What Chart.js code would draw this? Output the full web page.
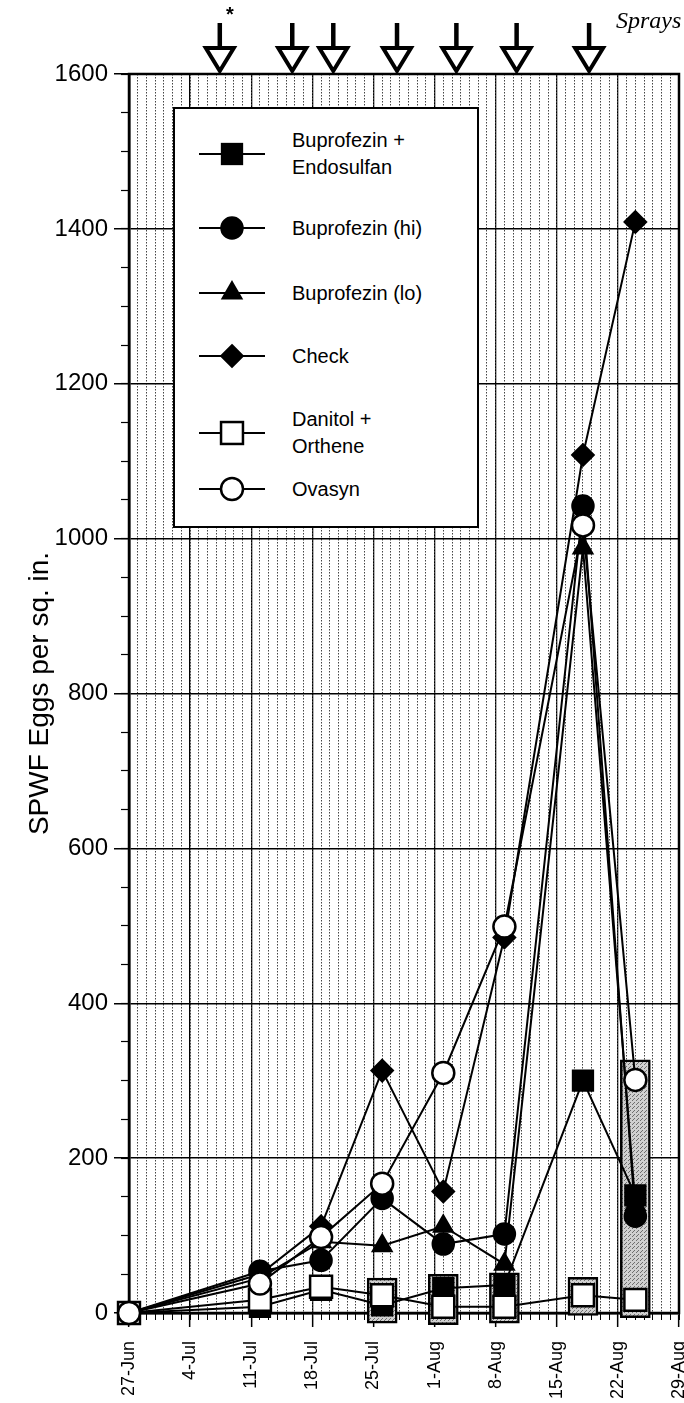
<!DOCTYPE html>
<html>
<head>
<meta charset="utf-8">
<script src="https://cdn.jsdelivr.net/npm/chart.js@4.4.1/dist/chart.umd.min.js"></script>
<style>
  html, body { margin: 0; padding: 0; background: #fff; }
  #wrap { position: relative; width: 684px; height: 1403px; overflow: hidden; }
  #c { position: absolute; left: 0; top: 0; }
  .txt { position: absolute; font-family: "Liberation Sans", Arial, Helvetica, sans-serif; color: #000; white-space: nowrap; }
  #sprays { font-family: "Liberation Serif", "Times New Roman", serif; font-style: italic; font-size: 24px; left: 616px; top: 8px; line-height: 1; }
  #star { font-size: 20px; font-weight: bold; left: 226px; top: 4px; line-height: 1; }
  #legend { position: absolute; left: 173px; top: 107px; width: 302px; height: 417px; background: #fff; border: 2.5px solid #000; }
  .lrow { position: absolute; left: 0; width: 300px; }
  .lrow svg { position: absolute; left: 24px; }
  .lrow .lab { position: absolute; left: 117px; font-family: "Liberation Sans", Arial, Helvetica, sans-serif; font-size: 20px; line-height: 27px; color: #000; white-space: nowrap; }
</style>
</head>
<body>
<div id="wrap">
  <canvas id="c" width="684" height="1403"></canvas>
  <div id="sprays" class="txt">Sprays</div>
  <div id="star" class="txt">*</div>
  <div id="legend"></div>
</div>
<script>
// ---- data (days counted from 27-Jun) ----
const tickLabels = ['27-Jun','4-Jul','11-Jul','18-Jul','25-Jul','1-Aug','8-Aug','15-Aug','22-Aug','29-Aug'];
const sampleDays = [0, 15, 22, 29, 36, 43, 52, 58];
const seriesNames = ['Buprofezin +\nEndosulfan', 'Buprofezin (hi)', 'Buprofezin (lo)', 'Check', 'Danitol +\nOrthene', 'Ovasyn'];
const bupEndo = [0, 8, 30, 10, 32, 36, 300, 152];
const bupHi   = [0, 54, 68, 148, 89, 102, 1042, 125];
const bupLo   = [0, 45, 92, 87, 112, 63, 988, 140];
const check   = [0, 50, 112, 313, 157, 485, 1108, 1409];
const danitol = [0, 17, 34, 23, 8, 8, 23, 17];
const ovasyn  = [0, 38, 98, 167, 310, 499, 1017, 301];
const boxDays = [29, 36, 43, 52, 58];
const boxLow  = [-13, -15, -13, -3, -6];
const boxHigh = [45, 50, 52, 46, 327];
const sprayDays = [10.4, 18.7, 23.4, 30.7, 37.5, 44.4, 52.7];

const FONT = '"Liberation Sans", Arial, Helvetica, sans-serif';
const canvas = document.getElementById('c');
const ctx = canvas.getContext('2d');

function stipplePattern() {
  const p = document.createElement('canvas');
  p.width = 4; p.height = 4;
  const g = p.getContext('2d');
  g.fillStyle = '#d0d0d0'; g.fillRect(0, 0, 4, 4);
  g.fillStyle = '#6e6e6e';
  g.fillRect(0, 0, 1, 1); g.fillRect(2, 2, 1, 1); g.fillRect(1, 3, 1, 1);
  return ctx.createPattern(p, 'repeat');
}

const styles = [
  { style: 'rect',    r: 14,   fill: '#000' },
  { style: 'circle',  r: 10.5, fill: '#000' },
  { style: 'triangle',r: 10.5, fill: '#000' },
  { style: 'rectRot', r: 10.5, fill: '#000' },
  { style: 'rect',    r: 15.5, fill: '#fff' },
  { style: 'circle',  r: 11,   fill: '#fff' }
];
const values = [bupEndo, bupHi, bupLo, check, danitol, ovasyn];
const drawOrder = [5, 4, 3, 2, 1, 0];

const lineSets = values.map((vals, i) => ({
  type: 'line',
  label: seriesNames[i].replace('\n', ' '),
  data: sampleDays.map((d, k) => ({ x: d, y: vals[k] })),
  borderColor: '#000',
  borderWidth: 2,
  pointStyle: styles[i].style,
  pointRadius: styles[i].r,
  pointBackgroundColor: styles[i].fill,
  pointBorderColor: '#000',
  pointBorderWidth: 2.5,
  tension: 0,
  clip: false,
  order: drawOrder[i]
}));

const boxSet = {
  type: 'bar',
  label: 'range',
  data: boxDays.map((d, k) => ({ x: d, y: [boxLow[k], boxHigh[k]] })),
  backgroundColor: stipplePattern(),
  borderColor: '#000',
  borderWidth: 2.5,
  borderSkipped: false,
  barThickness: 30,
  clip: false,
  order: 20
};

const framePlugin = {
  id: 'frame',
  beforeDatasetsDraw(chart) {
    const a = chart.chartArea, c = chart.ctx;
    c.save();
    c.strokeStyle = '#000'; c.lineWidth = 2.5;
    c.strokeRect(a.left, a.top, a.right - a.left, a.bottom - a.top);
    c.restore();
  },
  afterDraw(chart) {
    const a = chart.chartArea, c = chart.ctx, xs = chart.scales.x;
    c.save();
    c.strokeStyle = '#000';
    sprayDays.forEach(d => {
      const x = xs.getPixelForValue(d);
      c.lineWidth = 4.5;
      c.beginPath(); c.moveTo(x, a.top - 51); c.lineTo(x, a.top - 27); c.stroke();
      c.lineWidth = 4; c.lineJoin = 'miter';
      c.beginPath();
      c.moveTo(x - 14, a.top - 26);
      c.lineTo(x + 14, a.top - 26);
      c.lineTo(x, a.top - 3);
      c.closePath();
      c.fillStyle = '#fff'; c.fill(); c.stroke();
    });
    c.restore();
  }
};

function noPad(s) { s.paddingLeft = 0; s.paddingRight = 0; s.paddingTop = 0; s.paddingBottom = 0; }

new Chart(ctx, {
  type: 'line',
  data: { datasets: [...lineSets, boxSet] },
  options: {
    responsive: false,
    animation: false,
    devicePixelRatio: 1,
    layout: { autoPadding: false, padding: { top: 74, right: 5, left: 0, bottom: 0 } },
    plugins: { legend: { display: false }, tooltip: { enabled: false } },
    scales: {
      x: {
        type: 'linear', position: 'bottom', weight: 1, offset: false,
        min: 0, max: 63,
        afterFit(s) { s.height = 90; noPad(s); },
        ticks: {
          stepSize: 7, autoSkip: false, minRotation: 90, maxRotation: 90, padding: 14,
          color: '#000', font: { family: FONT, size: 18 },
          callback: v => tickLabels[Math.round(v / 7)]
        },
        grid: { offset: false, color: '#000', lineWidth: 1.3, tickLength: 14, tickWidth: 1.5, tickColor: '#000' },
        border: { display: true, color: '#000', width: 2.5 }
      },
      xMinor: {
        type: 'linear', position: 'bottom', weight: 0, offset: false,
        min: 0, max: 63,
        afterFit(s) { s.height = 0; noPad(s); },
        ticks: { stepSize: 1, display: false, autoSkip: false },
        grid: { offset: false, color: '#444', lineWidth: 1, tickLength: 7, tickColor: '#000', tickWidth: 1, tickBorderDash: [] },
        border: { display: false, dash: [1.5, 1.5] }
      },
      y: {
        type: 'linear', position: 'left', weight: 1,
        min: 0, max: 1600,
        afterFit(s) { s.width = 129; noPad(s); },
        ticks: { stepSize: 200, padding: 6, color: '#000', font: { family: FONT, size: 24 }, callback: v => String(v) },
        grid: { color: '#000', lineWidth: 1.5, tickLength: 15, tickWidth: 1.5, tickColor: '#000' },
        border: { display: true, color: '#000', width: 2.5 },
        title: {
          display: true, text: 'SPWF Eggs per sq. in.', color: '#000',
          font: { family: FONT, size: 28 }, padding: { top: 23, bottom: 0 }
        }
      },
      yMinor: {
        type: 'linear', position: 'left', weight: 0,
        min: 0, max: 1600,
        afterFit(s) { s.width = 0; noPad(s); },
        ticks: { stepSize: 50, display: false, autoSkip: false },
        grid: { drawOnChartArea: false, tickLength: 8, tickColor: '#000', tickWidth: 1.2 },
        border: { display: false }
      }
    }
  },
  plugins: [framePlugin]
});

// ---- HTML legend built from the same series definitions ----
const legendRowsY = [45, 119, 184, 247, 324, 380];
function markerSVG(st) {
  const w = 66, h = 34, cx = 33, cy = 17;
  let shape = '';
  if (st.style === 'rect') {
    const s = st.r * Math.SQRT1_2;
    shape = `<rect x="${cx - s}" y="${cy - s}" width="${2 * s}" height="${2 * s}" fill="${st.fill}" stroke="#000" stroke-width="2.5"/>`;
  } else if (st.style === 'circle') {
    shape = `<circle cx="${cx}" cy="${cy}" r="${st.r}" fill="${st.fill}" stroke="#000" stroke-width="2.5"/>`;
  } else if (st.style === 'triangle') {
    const r = st.r;
    const pts = [[cx, cy - r], [cx + r * Math.sin(2 * Math.PI / 3), cy - r * Math.cos(2 * Math.PI / 3)], [cx + r * Math.sin(4 * Math.PI / 3), cy - r * Math.cos(4 * Math.PI / 3)]];
    shape = `<polygon points="${pts.map(p => p.join(',')).join(' ')}" fill="${st.fill}" stroke="#000" stroke-width="2.5"/>`;
  } else if (st.style === 'rectRot') {
    const r = st.r;
    shape = `<polygon points="${cx},${cy - r} ${cx + r},${cy} ${cx},${cy + r} ${cx - r},${cy}" fill="${st.fill}" stroke="#000" stroke-width="2.5"/>`;
  }
  return `<svg width="${w}" height="${h}" viewBox="0 0 ${w} ${h}"><line x1="0" y1="${cy}" x2="${w}" y2="${cy}" stroke="#000" stroke-width="2.2"/>${shape}</svg>`;
}
const legend = document.getElementById('legend');
seriesNames.forEach((name, i) => {
  const lines = name.split('\n');
  const row = document.createElement('div');
  row.className = 'lrow';
  const cy = legendRowsY[i];
  row.style.top = (cy - 17) + 'px';
  row.style.height = '34px';
  row.innerHTML = markerSVG(styles[i]) +
    `<div class="lab" style="top:${17 - lines.length * 13.5}px">${lines.join('<br>')}</div>`;
  legend.appendChild(row);
});
</script>
</body>
</html>
